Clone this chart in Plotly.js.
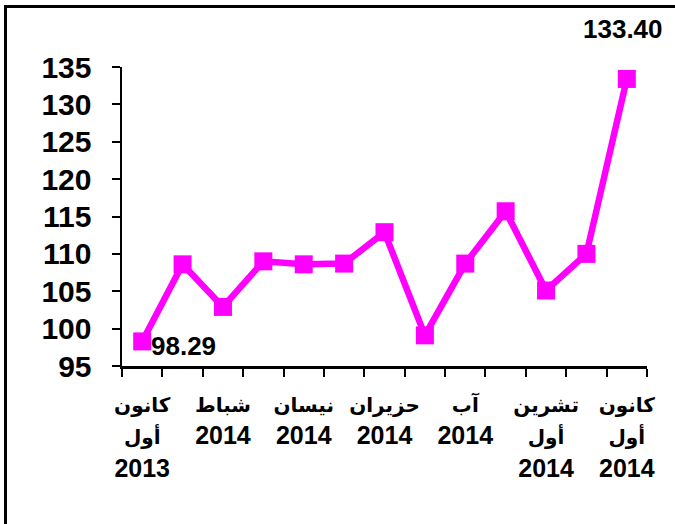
<!DOCTYPE html>
<html>
<head>
<meta charset="utf-8">
<script src="https://cdn.plot.ly/plotly-3.0.1.min.js"></script>
<style>
  html, body { margin: 0; padding: 0; background: #fff; }
  #wrap { position: relative; width: 675px; height: 524px; overflow: hidden; }
  #chart { position: absolute; left: 0; top: 0; width: 675px; height: 524px; }
  #frame { position: absolute; left: 4px; top: 5px; width: 800px; height: 800px; border: 3px solid #000; pointer-events: none; }
</style>
</head>
<body>
<div id="wrap">
  <div id="chart"></div>
  <div id="frame"></div>
</div>
<script>
// Months: Dec 2013 .. Dec 2014
const months = [
  "كانون أول 2013", "كانون ثاني 2014", "شباط 2014", "آذار 2014", "نيسان 2014",
  "أيار 2014", "حزيران 2014", "تموز 2014", "آب 2014", "أيلول 2014",
  "تشرين أول 2014", "تشرين ثاني 2014", "كانون أول 2014"
];
const values = [98.29, 108.6, 102.9, 109.0, 108.6, 108.7, 112.9, 99.1, 108.7, 115.7, 105.1, 110.0, 133.40];
// tick labels (every other month): [month word(s), year]
const tickMonthWords = [
  ["كانون", "أول"], null, ["شباط"], null, ["نيسان"], null,
  ["حزيران"], null, ["آب"], null, ["تشرين", "أول"], null, ["كانون", "أول"]
];
const tickYears = ["2013", "", "2014", "", "2014", "", "2014", "", "2014", "", "2014", "", "2014"];
const yTicks = [95, 100, 105, 110, 115, 120, 125, 130, 135];
// points that carry a value label
const labelIdx = [0, 12];

const magenta = "#FF00FF";
const fontFam = "Liberation Sans, Arial, DejaVu Sans, sans-serif";

const tickText = tickMonthWords.map((w, i) => {
  if (!w) return "";
  const ar = w.map(s => '<b><span style="font-size:20px">' + s + '</span></b>').join("<br>");
  return ar + "<br>" + tickYears[i];
});

const trace = {
  x: months,
  y: values,
  type: "scatter",
  mode: "lines+markers",
  line: { color: magenta, width: 6.5 },
  marker: { symbol: "square", size: 18, color: magenta },
  hoverinfo: "skip",
  cliponaxis: false
};

const annotations = labelIdx.map((i, k) => ({
  x: months[i],
  y: values[i],
  xref: "x", yref: "y",
  text: values[i].toFixed(2),
  showarrow: false,
  font: { family: fontFam, size: 26, color: "#000", weight: 700 },
  xanchor: k === 0 ? "left" : "center",
  yanchor: k === 0 ? "middle" : "bottom",
  xshift: k === 0 ? 7 : -4,
  yshift: k === 0 ? -5 : 33
}));

const layout = {
  width: 675, height: 524,
  margin: { l: 122, r: 28, t: 67, b: 158 },
  paper_bgcolor: "#fff", plot_bgcolor: "#fff",
  showlegend: false,
  xaxis: {
    type: "category",
    tickmode: "array",
    tickvals: months,
    ticktext: tickText,
    tickson: "boundaries",
    ticks: "outside", ticklen: 8, tickwidth: 2, tickcolor: "#000",
    showline: true, linecolor: "#000", linewidth: 2.5,
    showgrid: false, zeroline: false,
    range: [-0.5, 12.5],
    tickangle: 0,
    ticklabelstandoff: 13,
    tickfont: { family: fontFam, size: 25, color: "#000", weight: 700 }
  },
  yaxis: {
    range: [95, 135],
    tickmode: "array",
    tickvals: yTicks,
    ticktext: yTicks.map(String),
    ticks: "outside", ticklen: 8, tickwidth: 2, tickcolor: "#000",
    showline: true, linecolor: "#000", linewidth: 2.5,
    showgrid: false, zeroline: false,
    ticklabelstandoff: 14,
    tickfont: { family: fontFam, size: 30, color: "#000", weight: 700 }
  },
  annotations: annotations
};

Plotly.newPlot("chart", [trace], layout, { staticPlot: true, displayModeBar: false });
</script>
</body>
</html>
